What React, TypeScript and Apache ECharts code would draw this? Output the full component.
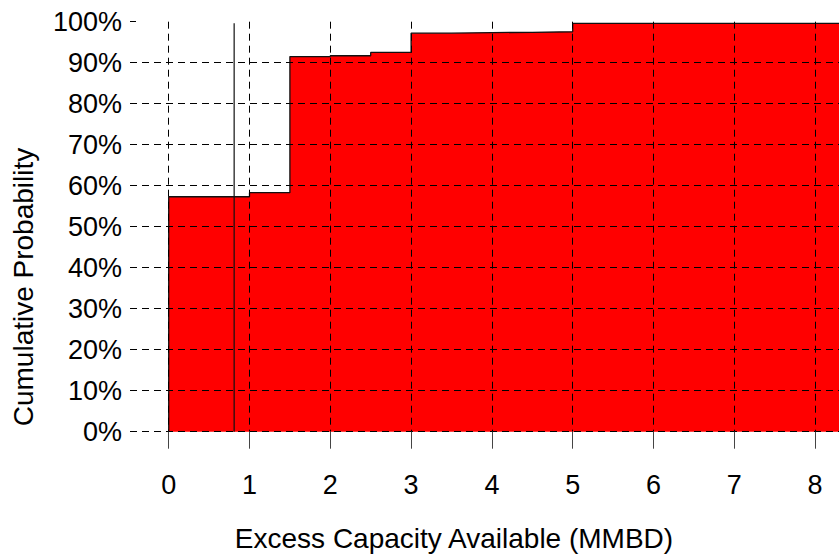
import React, { useEffect, useRef } from "react";
import * as echarts from "echarts";

// Step points of the cumulative distribution (x in MMBD, y as probability)
const stepX = [0, 0, 1, 1.5, 2, 2.5, 3, 3.5, 4, 4.5, 5, 8.4];
const stepY = [0, 0.573, 0.583, 0.915, 0.917, 0.925, 0.972, 0.9735, 0.974, 0.9755, 0.996, 0.996];

// Vertical marker line
const markerX = 0.81;
const markerTop = 0.996;

// Tick values
const xTicks = [0, 1, 2, 3, 4, 5, 6, 7, 8];
const yLabelValues = [0, 0.1, 0.2, 0.3, 0.4, 0.5, 0.6, 0.7, 0.8, 0.9, 1];
const yGridValues = [0, 0.1, 0.2, 0.3, 0.4, 0.5, 0.6, 0.7, 0.8, 0.9];

const xTitle = "Excess Capacity Available (MMBD)";
const yTitle = "Cumulative Probability";

const FONT = '"Liberation Sans", Arial, sans-serif';

export default function App() {
  const ref = useRef<HTMLDivElement>(null);

  useEffect(() => {
    document.body.style.margin = "0";
    if (!ref.current) return;
    const chart = echarts.init(ref.current, undefined, { renderer: "svg" });

    const stepData = stepX.map((x, i) => [x, stepY[i]]);
    const markerData = [
      [markerX, 0],
      [markerX, markerTop],
    ];

    const dash = { type: [7, 5] as any, color: "#000", width: 1 };

    chart.setOption({
      animation: false,
      backgroundColor: "#fff",
      textStyle: { fontFamily: FONT },
      grid: {
        left: 130,
        right: 0,
        top: 21.7,
        bottom: 123.3,
        containLabel: false,
        outerBoundsMode: "none",
      },
      xAxis: {
        type: "value",
        min: -0.479,
        max: 8.296,
        z: 5,
        axisLine: { show: false },
        axisTick: {
          show: true,
          customValues: xTicks,
          length: 17,
          lineStyle: { color: "#444", width: 1 },
        },
        axisLabel: {
          customValues: xTicks,
          margin: 40,
          fontSize: 27,
          color: "#000",
          fontFamily: FONT,
        },
        splitLine: { show: true, lineStyle: dash },
      },
      yAxis: [
        {
          type: "value",
          min: 0,
          max: 1,
          position: "left",
          z: 5,
          axisLine: { show: false },
          axisTick: { show: false, customValues: yGridValues },
          axisLabel: {
            customValues: yLabelValues,
            margin: 8,
            fontSize: 27,
            color: "#000",
            fontFamily: FONT,
            formatter: (v: number) => Math.round(v * 100) + "%",
          },
          splitLine: { show: true, lineStyle: dash },
        },
        {
          type: "value",
          min: 0,
          max: 1,
          interval: 0.1,
          position: "left",
          offset: 0,
          z: 5,
          axisLine: { show: false },
          axisLabel: { show: false },
          splitLine: { show: false },
          axisTick: {
            show: true,
            inside: true,
            length: 6,
            lineStyle: { color: "#000", width: 1 },
          },
        },
      ],
      series: [
        {
          type: "line",
          step: "end",
          data: stepData,
          yAxisIndex: 0,
          symbol: "none",
          z: 2,
          lineStyle: { color: "#111", width: 1.3 },
          areaStyle: { color: "#ff0000", opacity: 1 },
        },
        {
          type: "line",
          data: markerData,
          yAxisIndex: 0,
          symbol: "none",
          z: 3,
          lineStyle: { color: "#111", width: 1.2 },
        },
      ],
      graphic: [
        {
          type: "text",
          x: 454,
          y: 538,
          style: {
            text: xTitle,
            font: `28px ${FONT}`,
            fill: "#000",
            align: "center",
            verticalAlign: "middle",
          },
        },
        {
          type: "text",
          x: 23,
          y: 287,
          rotation: Math.PI / 2,
          style: {
            text: yTitle,
            font: `28px ${FONT}`,
            fill: "#000",
            align: "center",
            verticalAlign: "middle",
          },
        },
      ],
    });

    return () => chart.dispose();
  }, []);

  return (
    <div
      ref={ref}
      style={{ position: "absolute", left: 0, top: 0, width: 839, height: 555 }}
    />
  );
}
